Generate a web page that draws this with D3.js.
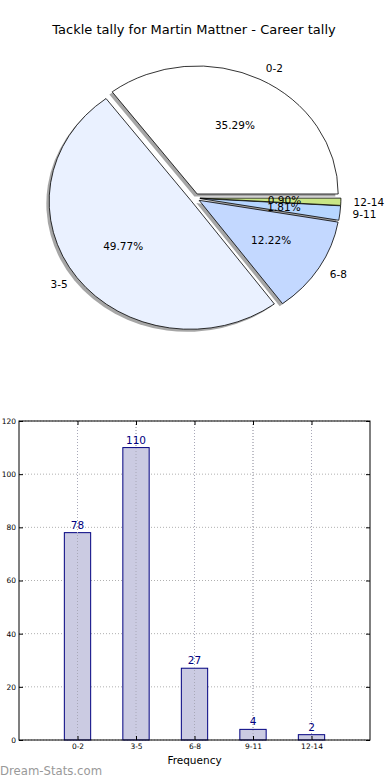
<!DOCTYPE html>
<html>
<head>
<meta charset="utf-8">
<script src="https://cdn.jsdelivr.net/npm/d3@7"></script>
<style>
  body { margin: 0; background: #fff; }
  text { font-family: "DejaVu Sans", sans-serif; }
</style>
</head>
<body>
<script>
const categories = ['0-2', '3-5', '6-8', '9-11', '12-14']
const tallies = [78, 110, 27, 4, 2]
const sliceColors = ['#ffffff', '#eaf1ff', '#c3d8ff', '#b6d6ff', '#c9e685']
const yTicks = [0, 20, 40, 60, 80, 100, 120]

const width = 390
const height = 780

const svg = d3.select('body').append('svg').attr('width', width).attr('height', height)

svg.append('text')
  .attr('x', 194).attr('y', 34)
  .attr('text-anchor', 'middle')
  .attr('font-size', 13)
  .text('Tackle tally for Martin Mattner - Career tally')

// pie (elliptical, counter-clockwise from 3 o'clock like matplotlib)
const pie = {cx: 195, cy: 198, rx: 141, ry: 128, explode: 0.035}
const total = d3.sum(tallies)

const arcs = d3.pie().sort(null)
  .startAngle(Math.PI / 2).endAngle(Math.PI / 2 - 2 * Math.PI)(tallies)

const arc = d3.arc().innerRadius(0).outerRadius(1)

const off = (d, k) => {
  const a = (d.startAngle + d.endAngle) / 2
  return [pie.cx + pie.rx * k * Math.sin(a), pie.cy - pie.ry * k * Math.cos(a)]
}

const pieGroup = svg.append('g')

// shadows first
pieGroup.selectAll('path.shadow')
  .data(arcs)
  .enter().append('path')
    .attr('class', 'shadow')
    .attr('transform', d => {
      const p = off(d, pie.explode)
      return 'translate(' + (p[0] - 0.02 * pie.rx) + ',' + (p[1] + 0.02 * pie.ry) + ') scale(' + pie.rx + ',' + pie.ry + ')'
    })
    .attr('d', arc)
    .attr('fill', '#4d4d4d')
    .attr('fill-opacity', 0.5)

pieGroup.selectAll('path.slice')
  .data(arcs)
  .enter().append('path')
    .attr('class', 'slice')
    .attr('transform', d => {
      const p = off(d, pie.explode)
      return 'translate(' + p[0] + ',' + p[1] + ') scale(' + pie.rx + ',' + pie.ry + ')'
    })
    .attr('d', arc)
    .attr('fill', (d, i) => sliceColors[i])
    .attr('stroke', '#000')
    .attr('stroke-width', 0.8)
    .attr('vector-effect', 'non-scaling-stroke')

pieGroup.selectAll('text.cat')
  .data(arcs)
  .enter().append('text')
    .attr('class', 'cat')
    .attr('x', d => off(d, pie.explode + 1.09)[0])
    .attr('y', d => off(d, pie.explode + 1.1)[1])
    .attr('dy', '0.35em')
    .attr('font-size', 10.5)
    .attr('text-anchor', d => Math.sin((d.startAngle + d.endAngle) / 2) >= 0 ? 'start' : 'end')
    .text((d, i) => categories[i])

pieGroup.selectAll('text.pct')
  .data(arcs)
  .enter().append('text')
    .attr('class', 'pct')
    .attr('x', d => off(d, pie.explode + 0.6)[0])
    .attr('y', d => off(d, pie.explode + 0.6)[1])
    .attr('dy', '0.35em')
    .attr('font-size', 10.5)
    .attr('text-anchor', 'middle')
    .text(d => (d.value / total * 100).toFixed(2) + '%')

// bar chart
const margin = {left: 19, right: 20, top: 421, bottom: 40}
const plotW = width - margin.left - margin.right
const plotH = height - margin.top - margin.bottom

const x = d3.scaleLinear().domain([-1, 5]).range([0, plotW])
const y = d3.scaleLinear().domain([0, 120]).range([plotH, 0])
const barW = 0.45

const chartGroup = svg.append('g').attr('transform', 'translate(' + margin.left + ',' + margin.top + ')')

// grid
chartGroup.selectAll('line.hgrid')
  .data(yTicks)
  .enter().append('line')
    .attr('x1', 0).attr('x2', plotW)
    .attr('y1', d => y(d)).attr('y2', d => y(d))
    .attr('stroke', '#b0b0b0').attr('stroke-dasharray', '1,2')

chartGroup.selectAll('line.vgrid')
  .data(categories)
  .enter().append('line')
    .attr('x1', (d, i) => x(i)).attr('x2', (d, i) => x(i))
    .attr('y1', 0).attr('y2', plotH)
    .attr('stroke', '#b0b0b0').attr('stroke-dasharray', '1,2')

chartGroup.selectAll('rect')
  .data(tallies)
  .enter().append('rect')
    .attr('x', (d, i) => x(i - barW / 2))
    .attr('y', d => y(d))
    .attr('width', x(barW) - x(0))
    .attr('height', d => y(0) - y(d))
    .attr('fill', '#cbcbe2')
    .attr('stroke', '#000080')
    .attr('stroke-width', 1)

// redraw grid over bars, matplotlib style
chartGroup.selectAll('line.vgrid2')
  .data(categories)
  .enter().append('line')
    .attr('x1', (d, i) => x(i)).attr('x2', (d, i) => x(i))
    .attr('y1', d => 0).attr('y2', plotH)
    .attr('stroke', '#a8a8b8').attr('stroke-dasharray', '1,2')

chartGroup.selectAll('text.val')
  .data(tallies)
  .enter().append('text')
    .attr('x', (d, i) => x(i))
    .attr('y', d => y(d) - 4)
    .attr('text-anchor', 'middle')
    .attr('font-size', 10.5)
    .attr('fill', '#000080')
    .text(d => d)

// axes with inward ticks on all sides
chartGroup.append('g')
  .attr('transform', 'translate(0,' + plotH + ')')
  .call(d3.axisBottom(x).tickValues(d3.range(categories.length)).tickFormat(i => categories[i]).tickSizeInner(-4).tickSizeOuter(0).tickPadding(4))
chartGroup.append('g')
  .call(d3.axisTop(x).tickValues(d3.range(categories.length)).tickFormat('').tickSizeInner(-4).tickSizeOuter(0))
chartGroup.append('g')
  .call(d3.axisLeft(y).tickValues(yTicks).tickSizeInner(-4).tickSizeOuter(0).tickPadding(3))
chartGroup.append('g')
  .attr('transform', 'translate(' + plotW + ',0)')
  .call(d3.axisRight(y).tickValues(yTicks).tickFormat('').tickSizeInner(-4).tickSizeOuter(0))

chartGroup.selectAll('.domain').remove()
chartGroup.selectAll('.tick text').attr('font-size', 7.5).attr('font-family', '"DejaVu Sans", sans-serif')

chartGroup.append('rect')
  .attr('width', plotW).attr('height', plotH)
  .attr('fill', 'none').attr('stroke', '#000').attr('stroke-width', 1)

chartGroup.append('text')
  .attr('x', plotW / 2).attr('y', plotH + 24)
  .attr('text-anchor', 'middle')
  .attr('font-size', 10.5)
  .text('Frequency')

svg.append('text')
  .attr('x', 0).attr('y', 775)
  .attr('font-size', 11.7)
  .attr('fill', '#999999')
  .text('Dream-Stats.com')
</script>
</body>
</html>
